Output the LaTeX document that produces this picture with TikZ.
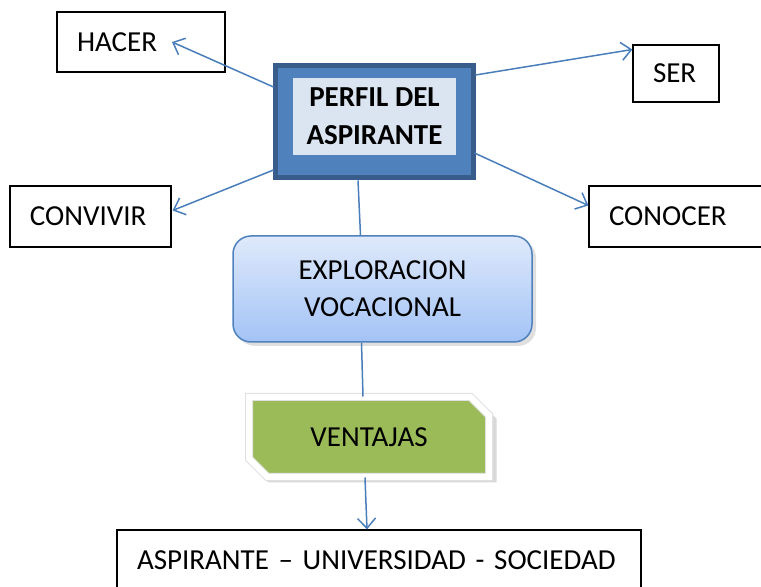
\documentclass[tikz,border=0pt]{standalone}
\usepackage{fontspec}
\setmainfont{Carlito}
\usetikzlibrary{arrows.meta, positioning, calc, shapes.misc, shadows}
\definecolor{linkBlue}{HTML}{4A7EBB}
\definecolor{perfilDark}{HTML}{385D8A}
\definecolor{perfilMid}{HTML}{4F81BD}
\definecolor{perfilLight}{HTML}{DBE5F1}
\definecolor{exploTop}{HTML}{DFE9FB}
\definecolor{exploBottom}{HTML}{A3C3F6}
\definecolor{ventajasGreen}{HTML}{9BBB59}

\begin{document}
\begin{tikzpicture}[
        x=0.5pt, y=-0.5pt,
        font=\fontsize{14.5}{18.5}\selectfont,
        box/.style={rectangle, draw=black, line width=0.6pt, fill=white, align=left, inner xsep=10pt, inner ysep=0pt, minimum height=30pt},
        arrow/.style={-{Straight Barb[length=5pt, width=9pt]}, line width=0.75pt, linkBlue},
        link/.style={line width=0.75pt, linkBlue}
    ]
        \useasboundingbox (0,0) rectangle (761,587);

        % Centre
        \node[rectangle, draw=perfilDark, line width=2.5pt, fill=perfilMid, minimum width=99pt, minimum height=56pt] (perfil) at (374,122) {};
        \node[rectangle, fill=perfilLight, minimum width=81.5pt, minimum height=38.5pt, align=center, font=\fontsize{14.5}{19}\selectfont\bfseries] (perfilin) at (374.5,116.5) {PERFIL DEL\\ASPIRANTE};

        % Around
        \node[box, text width=64pt] (hacer) at (141,42) {HACER};
        \node[box, text width=23pt, minimum height=28.5pt] (ser) at (676,73.5) {SER};
        \node[box, text width=60.5pt, minimum height=30.5pt] (convivir) at (90.5,216.5) {CONVIVIR};
        \node[box, text width=68pt, minimum height=30.5pt] (conocer) at (677,216.5) {CONOCER};

        % Down
        \node[rectangle, rounded corners=9pt, draw=perfilMid, line width=0.75pt, top color=exploTop, bottom color=exploBottom, minimum width=149.5pt, minimum height=53pt, align=center, drop shadow={shadow xshift=2pt, shadow yshift=-2pt, opacity=0.25}] (explo) at (382.5,289) {EXPLORACION\\VOCACIONAL};
        \node[chamfered rectangle, chamfered rectangle corners={north east, south west}, chamfered rectangle xsep=6pt, fill=ventajasGreen, draw=black!12, line width=0.5pt, double=white, double distance=3pt, minimum width=120pt, minimum height=40pt, drop shadow={shadow xshift=2pt, shadow yshift=-2pt, shadow scale=1.03, opacity=0.3}] (ventajas) at (369,437) {VENTAJAS};
        \node[box, text width=242pt] (bottom) at (379,560) {ASPIRANTE -- UNIVERSIDAD - SOCIEDAD};

        \draw[arrow] ($(perfil.west)+(1,-35)$) -- ($(hacer.center)+(31,0)$);
        \draw[arrow] ($(perfil.east)+(0,-47)$) -- ($(ser.west)+(0,-24)$);
        \draw[arrow] ($(perfil.west)+(1,48)$) -- ($(convivir.east)+(1,-6)$);
        \draw[arrow] ($(perfil.east)+(-1,31)$) -- ($(conocer.west)+(0,-11)$);
        \draw[link] ($(perfil.south)+(-16,0)$) -- ($(explo.north)+(-22,0)$);
        \draw[link] ($(explo.south)+(-21,0)$) -- ($(ventajas.north)+(-6,0)$);
        \draw[arrow] ($(ventajas.south)+(-4,0)$) -- ($(bottom.north)+(-12,0)$);
    \end{tikzpicture}
\end{document}
